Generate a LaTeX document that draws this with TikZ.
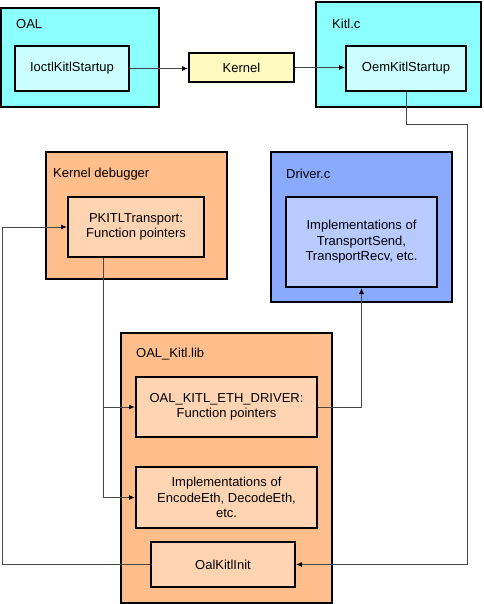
\documentclass[tikz,border=0pt]{standalone}
\usepackage{fontspec}
\setmainfont{Liberation Sans}
\usetikzlibrary{arrows.meta}
\definecolor{cyanout}{RGB}{140,255,255}
\definecolor{cyanin}{RGB}{204,255,255}
\definecolor{kernelyel}{RGB}{255,250,192}
\definecolor{orangeout}{RGB}{255,190,140}
\definecolor{orangein}{RGB}{255,212,178}
\definecolor{blueout}{RGB}{138,170,255}
\definecolor{bluein}{RGB}{185,202,255}
\begin{document}
\begin{tikzpicture}[
  x=1pt, y=-1pt,
  every node/.style={font=\fontsize{13}{15.5}\selectfont},
  outer/.style={rectangle,draw,line width=2pt,inner sep=0pt},
  inner/.style={rectangle,draw,line width=2pt,align=center,inner sep=0pt},
  title/.style={anchor=west,inner sep=0pt},
  wire/.style={draw=black!72,line width=1pt},
  arr/.style={wire,-{Latex[length=6pt,width=5pt,color=black]}}
  ]
  \useasboundingbox (0,0) rectangle (483,604);
  % containers
  \node[outer, fill=cyanout, minimum width=158, minimum height=99] (oal) at (80,57.5) {};
  \node[outer, fill=cyanout, minimum width=165, minimum height=105] (kitlc) at (398.5,54.5) {};
  \node[outer, fill=orangeout, minimum width=181, minimum height=127] (kdbg) at (136.5,215.5) {};
  \node[outer, fill=blueout, minimum width=181, minimum height=150] (driverc) at (361.5,227) {};
  \node[outer, fill=orangeout, minimum width=211, minimum height=270] (oallib) at (226.5,467.5) {};
  \node[title] (oaltitle) at (16,24) {OAL};
  \node[title] (kitltitle) at (332,24) {Kitl.c};
  \node[title] (kdbgtitle) at (53,174) {Kernel debugger};
  \node[title] (drvtitle) at (286,174) {Driver.c};
  \node[title] (libtitle) at (136,354) {OAL\_Kitl.lib};
  % boxes
  \node[inner, fill=cyanin, minimum width=114, minimum height=45] (ioctl) at (72,68.5) {IoctlKitlStartup};
  \node[inner, fill=kernelyel, minimum width=105, minimum height=29] (kernel) at (241.5,67.5) {Kernel};
  \node[inner, fill=cyanin, minimum width=120, minimum height=45] (oemstart) at (406,68.5) {OemKitlStartup};
  \node[inner, fill=orangein, minimum width=136, minimum height=60] (pkitl) at (136,227) {PKITLTransport:\\Function pointers};
  \node[inner, fill=bluein, minimum width=151, minimum height=90] (impltr) at (361.5,242) {Implementations of\\TransportSend,\\TransportRecv, etc.};
  \node[inner, fill=orangein, minimum width=181, minimum height=60] (ethdrv) at (226.5,407) {OAL\_KITL\_ETH\_DRIVER:\\Function pointers};
  \node[inner, fill=orangein, minimum width=181, minimum height=61] (impleth) at (226.5,497.5) {Implementations of\\EncodeEth, DecodeEth,\\etc.};
  \node[inner, fill=orangein, minimum width=144, minimum height=45] (oalinit) at (223,564.5) {OalKitlInit};
  % turning points
  \coordinate (oemdown) at (406,125);
  \coordinate (rightrail) at (467,125);
  \coordinate (leftrail) at (2,227);
  \coordinate (pkitldown) at (103,497.5);
  % connectors
  \draw[arr] (ioctl.east) -- (ioctl.east -| kernel.west);
  \draw[arr] (kernel.east) -- (kernel.east -| oemstart.west);
  \draw[arr] (oemstart.south) -- (oemdown) -- (rightrail) |- (oalinit.east);
  \draw[arr] (ethdrv.east) -| (impltr.south);
  \draw[arr] (pkitl.south -| pkitldown) -- (pkitldown) -- (impleth.west);
  \draw[arr] (pkitldown |- ethdrv.west) -- (ethdrv.west);
  \draw[arr] (oalinit.west) -| (leftrail) -- (pkitl.west);
\end{tikzpicture}
\end{document}
